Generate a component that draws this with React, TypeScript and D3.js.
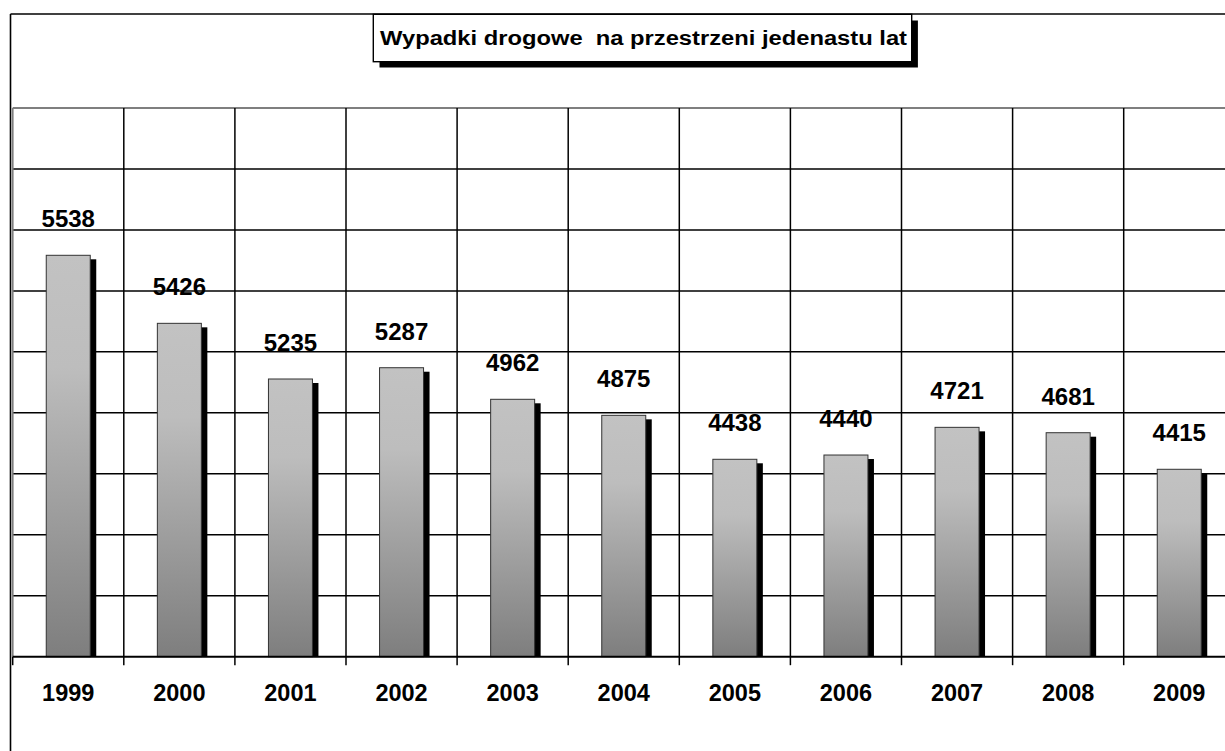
import React from "react";
import * as d3 from "d3";

// Category years
const years = ["1999", "2000", "2001", "2002", "2003", "2004", "2005", "2006", "2007", "2008", "2009"];
// Data labels printed above the bars (number of road accidents)
const accidentLabels = [5538, 5426, 5235, 5287, 4962, 4875, 4438, 4440, 4721, 4681, 4415];
// Bar heights as plotted on the chart's (hidden) value axis, read against the 9 gridlines
const barHeights = [6584, 5468, 4555, 4740, 4222, 3959, 3238, 3308, 3762, 3674, 3074];
// Hidden value axis ticks
const axisTicks = [0, 1000, 2000, 3000, 4000, 5000, 6000, 7000, 8000, 9000];

const title = "Wypadki drogowe  na przestrzeni jedenastu lat";

const W = 1225;
const H = 751;
const FONT = "'Liberation Sans', Arial, Helvetica, sans-serif";

export default function App() {
  const plotLeft = 12.7;
  const band = 111.1;
  const plotTop = 108;
  const plotBottom = 656.7;

  const x = d3
    .scaleBand<string>()
    .domain(years)
    .range([plotLeft, plotLeft + band * years.length])
    .paddingInner(0)
    .paddingOuter(0);
  const y = d3.scaleLinear().domain([0, 9000]).range([plotBottom, plotTop]);

  const bw = x.bandwidth() * 0.396;
  const boundaries = d3.range(years.length + 1).map((i) => plotLeft + i * x.bandwidth());

  return (
    <svg
      width={W}
      height={H}
      viewBox={`0 0 ${W} ${H}`}
      style={{ position: "absolute", left: 0, top: 0, background: "#fff" }}
    >
      <defs>
        <linearGradient id="barGrad" x1="0" y1="0" x2="0" y2="1">
          <stop offset="0" stopColor="#c2c2c2" />
          <stop offset="0.28" stopColor="#bdbdbd" />
          <stop offset="1" stopColor="#7e7e7e" />
        </linearGradient>
      </defs>
      <rect x={0} y={0} width={W} height={H} fill="#fff" />

      {/* outer chart border */}
      <line x1={10.5} y1={14} x2={W} y2={14} stroke="#000" strokeWidth={1.6} />
      <line x1={10.5} y1={14} x2={10.5} y2={H} stroke="#000" strokeWidth={1.6} />

      {/* horizontal gridlines */}
      {axisTicks.slice(1).map((t) => (
        <line
          key={"h" + t}
          x1={plotLeft}
          x2={W}
          y1={y(t)}
          y2={y(t)}
          stroke={t === 9000 ? "#7f7f7f" : "#000"}
          strokeWidth={t === 9000 ? 1.8 : 1.5}
        />
      ))}
      {/* vertical gridlines */}
      {boundaries.slice(1).map((bx, i) => (
        <line key={"v" + i} x1={bx} x2={bx} y1={plotTop} y2={plotBottom} stroke="#000" strokeWidth={1.5} />
      ))}
      {/* left plot edge */}
      <line x1={plotLeft} x2={plotLeft} y1={plotTop} y2={plotBottom} stroke="#7f7f7f" strokeWidth={1.8} />

      {/* bars with shadows */}
      {years.map((yr, i) => {
        const cx = (x(yr) as number) + x.bandwidth() / 2;
        const bx = cx - bw / 2;
        const top = y(barHeights[i]);
        return (
          <g key={"b" + yr}>
            <rect x={bx + 6} y={top + 4} width={bw} height={plotBottom - top - 4} fill="#000" />
            <rect
              x={bx}
              y={top}
              width={bw}
              height={plotBottom - top}
              fill="url(#barGrad)"
              stroke="#333"
              strokeWidth={1}
            />
            <text
              x={cx}
              y={top - 28}
              textAnchor="middle"
              fontFamily={FONT}
              fontWeight="bold"
              fontSize={24}
              fill="#000"
            >
              {accidentLabels[i]}
            </text>
          </g>
        );
      })}

      {/* category axis */}
      <line x1={plotLeft} x2={W} y1={plotBottom} y2={plotBottom} stroke="#000" strokeWidth={2} />
      {boundaries.map((bx, i) => (
        <line key={"t" + i} x1={bx} x2={bx} y1={plotBottom} y2={plotBottom + 8.5} stroke="#000" strokeWidth={1.5} />
      ))}
      {years.map((yr) => (
        <text
          key={"l" + yr}
          x={(x(yr) as number) + x.bandwidth() / 2}
          y={701}
          textAnchor="middle"
          fontFamily={FONT}
          fontWeight="bold"
          fontSize={23.5}
          fill="#000"
        >
          {yr}
        </text>
      ))}

      {/* title box with shadow */}
      <rect x={379.5} y={20.5} width={538.4} height={47} fill="#000" />
      <rect x={373.3} y={14.3} width={538.4} height={47.4} fill="#fff" stroke="#000" strokeWidth={1.4} />
      <text
        x={380}
        y={45}
        fontFamily={FONT}
        fontWeight="bold"
        fontSize={20}
        textLength={527}
        lengthAdjust="spacingAndGlyphs"
        xmlSpace="preserve"
        style={{ whiteSpace: "pre" }}
        fill="#000"
      >
        {title}
      </text>
    </svg>
  );
}
